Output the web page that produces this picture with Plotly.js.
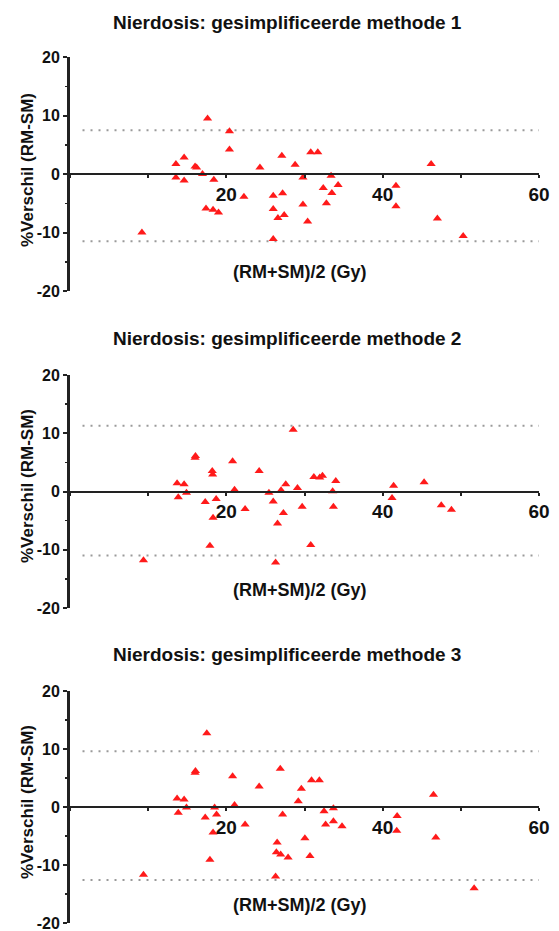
<!DOCTYPE html>
<html><head><meta charset="utf-8">
<script src="https://cdn.plot.ly/plotly-3.0.1.min.js"></script>
<style>html,body{margin:0;padding:0;background:#fff}#chart{width:559px;height:931px}</style>
</head><body><div id="chart"></div>
<script>
// ---- data ----
const panelTitles = [
  "Nierdosis: gesimplificeerde methode 1",
  "Nierdosis: gesimplificeerde methode 2",
  "Nierdosis: gesimplificeerde methode 3"
];
const xAxisTitle = "(RM+SM)/2 (Gy)";
const yAxisTitle = "%Verschil (RM-SM)";
const xTickVals = [20, 40, 60];
const xTickText = ["20", "40", "60"];
const yTickVals = [-20, -10, 0, 10, 20];
const yTickText = ["-20", "-10", "0", "10", "20"];

const m1x = [17.6, 20.4, 20.4, 14.6, 13.55, 16.2, 16.0, 16.95, 13.55, 14.6, 18.4, 24.3, 22.25, 17.4, 18.3, 19.0, 26.0, 26.0, 26.6, 27.4, 26.0, 27.2, 27.1, 28.8, 29.8, 30.8, 31.7, 29.8, 30.4, 33.4, 32.4, 33.5, 34.3, 32.8, 9.2, 41.7, 41.7, 46.2, 47.0, 50.3];
const m1y = [9.5, 7.3, 4.2, 2.8, 1.7, 1.1, 1.3, 0.0, -0.6, -1.1, -1.0, 1.1, -3.9, -5.9, -6.1, -6.6, -3.7, -6.0, -7.5, -7.0, -11.1, -3.3, 3.1, 1.6, -0.6, 3.7, 3.7, -5.2, -8.1, -0.3, -2.4, -3.25, -1.9, -5.0, -10.0, -2.0, -5.5, 1.7, -7.6, -10.6];

const m2x = [28.55, 16.0, 16.05, 20.8, 18.25, 18.2, 24.2, 13.7, 14.6, 14.9, 13.85, 17.3, 18.7, 18.3, 21.05, 22.4, 17.9, 25.45, 26.0, 27.3, 26.55, 26.3, 27.0, 27.6, 29.1, 29.7, 30.8, 31.2, 31.95, 32.3, 34.0, 33.6, 33.7, 41.4, 41.2, 45.3, 47.5, 48.8, 9.4];
const m2y = [10.6, 5.8, 6.1, 5.2, 2.9, 3.5, 3.5, 1.4, 1.25, -0.2, -1.0, -1.8, -1.3, -4.5, 0.3, -3.0, -9.3, -0.2, -1.7, -3.7, -5.5, -12.2, 0.2, 1.25, 0.6, -2.6, -9.2, 2.5, 2.4, 2.7, 1.8, 0.05, -2.6, 1.0, -1.1, 1.6, -2.35, -3.15, -11.8];

const m3x = [17.5, 16.0, 16.05, 20.8, 24.2, 26.9, 13.7, 14.6, 14.9, 13.85, 17.3, 18.5, 18.75, 18.3, 21.05, 22.4, 17.9, 27.2, 26.5, 26.4, 26.95, 27.9, 26.3, 29.2, 29.6, 30.05, 30.7, 30.9, 31.9, 32.5, 33.7, 32.7, 33.7, 34.8, 41.85, 41.8, 46.5, 46.8, 51.7, 9.4];
const m3y = [12.7, 5.9, 6.2, 5.3, 3.55, 6.6, 1.45, 1.3, -0.1, -1.0, -1.8, -0.1, -1.3, -4.4, 0.35, -3.0, -9.1, -1.3, -6.1, -7.8, -8.2, -8.7, -12.0, 1.0, 3.15, -5.4, -8.45, 4.6, 4.6, -0.75, -0.2, -3.0, -2.45, -3.3, -1.55, -4.1, 2.1, -5.25, -14.0, -11.7];

const upperLimits = [7.5, 11.3, 9.6];
const lowerLimits = [-11.5, -11.0, -12.6];
const xRange = [0, 60];
const yRange = [-20, 20];

// ---- layout geometry (pixels) ----
const W = 559, H = 931;
const plotLeft = 70, plotRight = 539;
const plotTop = [57, 375, 691], plotBottom = [291, 608, 923];
const titleY = [22, 338, 654], titleX = 287;
const xTitleY = [272, 590, 905], xTitleX = 300;
const yTitleY = [170, 486, 802], yTitleX = 27;

const FONT = "Liberation Sans, Arial, Helvetica, sans-serif";
const INK = "#111";
const xs = [m1x, m2x, m3x], ys = [m1y, m2y, m3y];

const data = [], shapes = [], annotations = [];
const layout = {
  width: W, height: H, margin: {l:0, r:0, t:0, b:0},
  paper_bgcolor: "#fff", plot_bgcolor: "rgba(0,0,0,0)",
  showlegend: false, font: {family: FONT, color: INK}
};
for (let i = 0; i < 3; i++) {
  const sfx = i === 0 ? "" : String(i + 1);
  const yd = [1 - plotBottom[i] / H, 1 - plotTop[i] / H];
  data.push({
    type: "scatter", mode: "markers", x: xs[i], y: ys[i],
    xaxis: "x" + sfx, yaxis: "y" + sfx, cliponaxis: false,
    marker: {symbol: "triangle-up", size: 8, color: "#ff1a1a", line: {width: 0}}
  });
  layout["xaxis" + sfx] = {
    domain: [plotLeft / W, plotRight / W], range: xRange, anchor: "free",
    position: (yd[0] + yd[1]) / 2, showgrid: false, zeroline: false,
    showline: true, linecolor: "#222", linewidth: 2,
    tickmode: "array", tickvals: xTickVals, ticktext: xTickText,
    ticks: "outside", ticklen: 3, tickwidth: 2, tickcolor: "#222",
    ticklabeloverflow: "allow",
    tickfont: {family: FONT, size: 19, color: INK, weight: "bold"},
    minor: {dtick: 10, tick0: 0, ticks: "outside", ticklen: 3, tickwidth: 2, tickcolor: "#222", showgrid: false},
    fixedrange: true
  };
  layout["yaxis" + sfx] = {
    domain: yd, range: yRange, anchor: "x" + sfx, showgrid: false, zeroline: false,
    showline: true, linecolor: "#222", linewidth: 3,
    tickmode: "array", tickvals: yTickVals, ticktext: yTickText,
    ticks: "outside", ticklen: 4, tickwidth: 2, tickcolor: "#222",
    ticklabeloverflow: "allow",
    tickfont: {family: FONT, size: 16, color: INK, weight: "bold"},
    minor: {dtick: 5, tick0: 0, ticks: "outside", ticklen: 2, tickwidth: 1.5, tickcolor: "#222", showgrid: false},
    fixedrange: true
  };
  [upperLimits[i], lowerLimits[i]].forEach(v => shapes.push({
    type: "line", xref: "x" + sfx, yref: "y" + sfx, x0: 1.6, x1: xRange[1], y0: v, y1: v,
    line: {color: "#9a9a9a", width: 2, dash: "2px,6px"}, layer: "below"
  }));
  annotations.push({
    xref: "paper", yref: "paper", x: titleX / W, y: 1 - titleY[i] / H,
    xanchor: "center", yanchor: "middle", showarrow: false,
    text: "<b>" + panelTitles[i] + "</b>", font: {family: FONT, size: 19, color: INK}
  });
  annotations.push({
    xref: "paper", yref: "paper", x: xTitleX / W, y: 1 - xTitleY[i] / H,
    xanchor: "center", yanchor: "middle", showarrow: false,
    text: "<b>" + xAxisTitle + "</b>", font: {family: FONT, size: 18, color: INK}
  });
  annotations.push({
    xref: "paper", yref: "paper", x: yTitleX / W, y: 1 - yTitleY[i] / H,
    xanchor: "center", yanchor: "middle", showarrow: false, textangle: -90,
    text: "<b>" + yAxisTitle + "</b>", font: {family: FONT, size: 17, color: INK}
  });
}
layout.shapes = shapes;
layout.annotations = annotations;
Plotly.newPlot("chart", data, layout, {staticPlot: true, displayModeBar: false});
</script>
</body></html>
